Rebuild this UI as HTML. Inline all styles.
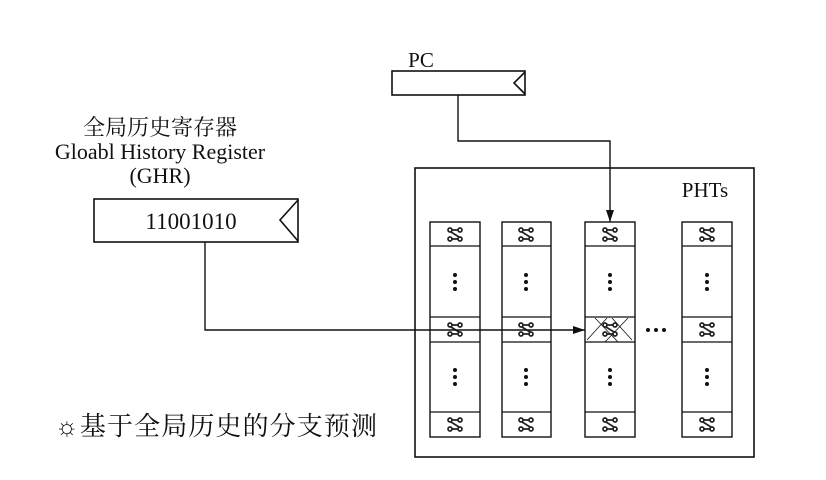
<!DOCTYPE html>
<html><head><meta charset="utf-8"><style>
html,body{margin:0;padding:0;background:#fff;}
svg{display:block;}
text{font-family:"Liberation Serif","Noto Serif CJK SC",serif;fill:#111;}
</style></head><body>
<svg width="826" height="480" viewBox="0 0 826 480" xmlns="http://www.w3.org/2000/svg">
<defs>
<marker id="ah" markerWidth="12" markerHeight="8" refX="12" refY="4" orient="auto" markerUnits="userSpaceOnUse">
<path d="M0,0 L12,4 L0,8 Z" fill="#111"/>
</marker>
<g id="sym" stroke="#222" stroke-width="1.7" fill="none">
<circle cx="-5" cy="-4" r="2"/><circle cx="5" cy="-4" r="2"/><circle cx="-5" cy="5" r="2"/><circle cx="5" cy="5" r="2"/>
<path d="M-3,-4 L3,-4 M-3,5 L3,5 M-4,-2 L4,3"/>
</g>
<g id="dots" fill="#111"><circle cx="0" cy="-7" r="2"/><circle cx="0" cy="0" r="2"/><circle cx="0" cy="7" r="2"/></g>
</defs>
<g stroke="#111" stroke-width="1.6" fill="none">
<rect x="392" y="71" width="133" height="24"/>
<path d="M525,72 L514,83 L525,94"/>
<rect x="94" y="199" width="204" height="43"/>
<path d="M298,200 L280,220 L298,241"/>
<rect x="415" y="168" width="339" height="289"/>
</g>
<g stroke="#111" stroke-width="1.4" fill="#fff">
<rect x="430" y="222" width="50" height="215"/>
<rect x="502" y="222" width="49" height="215"/>
<rect x="585" y="222" width="50" height="215"/>
<rect x="682" y="222" width="50" height="215"/>
</g>
<g stroke="#111" stroke-width="1.3">
<path d="M430,246H480M430,317H480M430,342H480M430,412H480"/>
<path d="M502,246H551M502,317H551M502,342H551M502,412H551"/>
<path d="M585,246H635M585,317H635M585,342H635M585,412H635"/>
<path d="M682,246H732M682,317H732M682,342H732M682,412H732"/>
<path d="M587,340 L607,318 M605,342 L628,318 M612,318 L632,340 M595,318 L618,342" stroke-width="0.8"/>
</g>
<g>
<use href="#sym" x="455" y="234"/><use href="#sym" x="455" y="329"/><use href="#sym" x="455" y="424"/>
<use href="#sym" x="526" y="234"/><use href="#sym" x="526" y="329"/><use href="#sym" x="526" y="424"/>
<use href="#sym" x="610" y="234"/><use href="#sym" x="610" y="329"/><use href="#sym" x="610" y="424"/>
<use href="#sym" x="707" y="234"/><use href="#sym" x="707" y="329"/><use href="#sym" x="707" y="424"/>
<use href="#dots" x="455" y="282"/><use href="#dots" x="455" y="377"/>
<use href="#dots" x="526" y="282"/><use href="#dots" x="526" y="377"/>
<use href="#dots" x="610" y="282"/><use href="#dots" x="610" y="377"/>
<use href="#dots" x="707" y="282"/><use href="#dots" x="707" y="377"/>
<circle cx="648" cy="330" r="2" fill="#111"/><circle cx="656" cy="330" r="2" fill="#111"/><circle cx="664" cy="330" r="2" fill="#111"/>
</g>
<g stroke="#111" stroke-width="1.4" fill="none">
<path d="M458,95 V141 H610 V222" marker-end="url(#ah)"/>
<path d="M205,242 V330 H585" marker-end="url(#ah)"/>
</g>
<text x="421" y="67" font-size="21" text-anchor="middle">PC</text>
<text x="160" y="135" font-size="22" text-anchor="middle">全局历史寄存器</text>
<text x="160" y="159" font-size="22" text-anchor="middle">Gloabl History Register</text>
<text x="160" y="183" font-size="22" text-anchor="middle">(GHR)</text>
<text x="191" y="229" font-size="23" text-anchor="middle">11001010</text>
<text x="705" y="197" font-size="21" text-anchor="middle">PHTs</text>
<text x="55" y="435" font-size="26" textLength="322" lengthAdjust="spacing">☼基于全局历史的分支预测</text>
</svg>
</body></html>
